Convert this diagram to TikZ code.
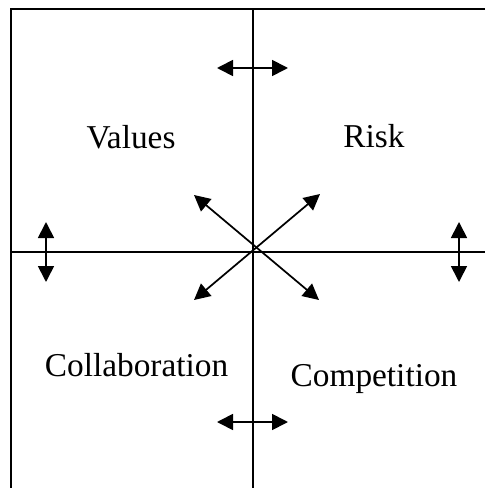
\documentclass[tikz,border=0pt]{standalone}
\usepackage{fontspec}
\setmainfont{Liberation Serif}
\usetikzlibrary{arrows.meta}
\begin{document}
\begin{tikzpicture}
[x=0.75pt,y=-0.75pt,
 axisline/.style={line width=1.5pt},
 twoway/.style={line width=1.3pt,
   {Triangle[length=12pt,width=12pt]}-{Triangle[length=12pt,width=12pt]}},
 quadlabel/.style={font=\fontsize{25}{30}\selectfont,anchor=base}]
\useasboundingbox (0,0) rectangle (485,488);
%% frame and axes
\draw[line width=1.9pt] (485,9) -- (11,9) -- (11,488);
\draw[axisline] (253,9) -- (253,488);
\draw[axisline] (11,252) -- (485,252);
%% double arrows
\foreach \n/\xa/\ya/\xb/\yb in {top/217/68/288/68, bottom/217/422/288/422,
    left/46/222/46/282, right/459/222/459/282,
    diagA/194/195/319/300, diagB/320/194/194/300} {
  \coordinate (\n a) at (\xa,\ya);
  \coordinate (\n b) at (\xb,\yb);
  \draw[twoway] (\n a) -- (\n b);
}
%% quadrant names
\node[quadlabel] (values) at (131,149) {Values};
\node[quadlabel] (risk) at (374,148) {Risk};
\node[quadlabel] (collab) at (136.5,376) {Collaboration};
\node[quadlabel] (compet) at (374,386) {Competition};
\end{tikzpicture}
\end{document}
